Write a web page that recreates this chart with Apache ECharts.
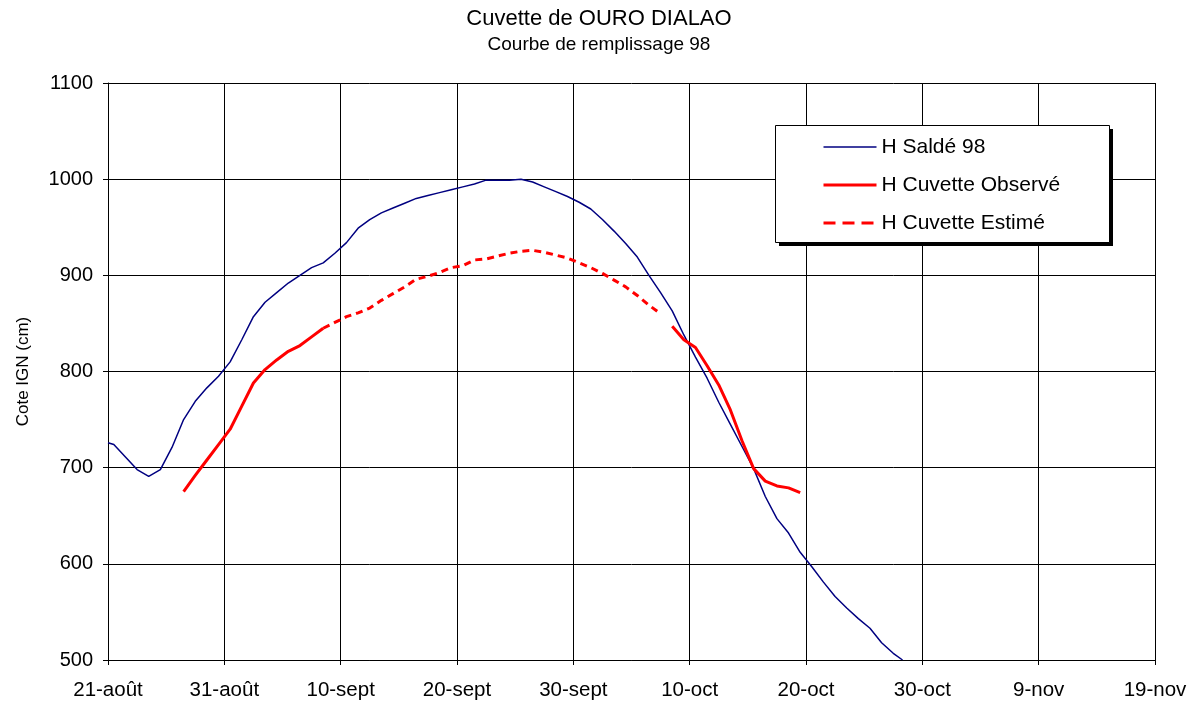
<!DOCTYPE html>
<html>
<head>
<meta charset="utf-8">
<script src="https://cdn.jsdelivr.net/npm/echarts@6/dist/echarts.min.js"></script>
<style>
  html, body { margin: 0; padding: 0; background: #fff; }
  #chart { width: 1198px; height: 706px; }
</style>
</head>
<body>
<div id="chart"></div>
<script>
  // x = days since 21-août 1998
  const xLabels = ['21-août', '31-août', '10-sept', '20-sept', '30-sept',
    '10-oct', '20-oct', '30-oct', '9-nov', '19-nov']

  const hSalde = [[0, 726], [0.5, 724], [1.5, 711], [2.5, 698], [3.5, 691], [4.5, 698],
    [5.5, 721], [6.5, 750], [7.5, 769], [8.5, 783], [9.5, 795], [10.5, 810],
    [11.5, 833], [12.5, 857], [13.5, 872], [14.5, 882], [15.5, 892], [16.5, 900],
    [17.5, 908], [18.5, 913], [19.5, 923], [20.5, 934], [21.5, 949], [22.5, 958],
    [23.5, 965], [24.5, 970], [25.5, 975], [26.5, 980], [27.5, 983], [28.5, 986],
    [29.5, 989], [30.5, 992], [31.5, 995], [32.5, 999], [33.5, 999], [34.5, 999],
    [35.5, 1000], [36.5, 997], [37.5, 992], [38.5, 987], [39.5, 982], [40.5, 976],
    [41.5, 969], [42.5, 958], [43.5, 946], [44.5, 933], [45.5, 919], [46.5, 900],
    [47.5, 882], [48.5, 863], [49.5, 838], [50.5, 815], [51.5, 793], [52.5, 768],
    [53.5, 745], [54.5, 722], [55.5, 699], [56.5, 670], [57.5, 647], [58.5, 632],
    [59.5, 612], [60.5, 597], [61.5, 581], [62.5, 566], [63.5, 554], [64.5, 543],
    [65.5, 533], [66.5, 518], [67.5, 507], [68.3, 500]]

  const hObserve = [[6.5, 675], [7.5, 692], [8.5, 708], [9.5, 724], [10.5, 740],
    [11.5, 764], [12.5, 788], [13.5, 802], [14.5, 812], [15.5, 821], [16.5, 827],
    [17.5, 836], [18.5, 845], null,
    [48.5, 847], [49.5, 833], [50.5, 825], [51.5, 806], [52.5, 786], [53.5, 760],
    [54.5, 728], [55.5, 699], [56.5, 686], [57.5, 681], [58.5, 679], [59.5, 674]]

  const hEstime = [[18.5, 845], [19.5, 851], [20.5, 857], [21.5, 861], [22.5, 866],
    [23.5, 874], [24.5, 881], [25.5, 888], [26.5, 896], [27.5, 899], [28.5, 903],
    [29.5, 908], [30.5, 910], [31.5, 916], [32.5, 917], [33.5, 920], [34.5, 923],
    [35.5, 925], [36.5, 926], [37.5, 924], [38.5, 921], [39.5, 918], [40.5, 913],
    [41.5, 908], [42.5, 902], [43.5, 895], [44.5, 888], [45.5, 879], [46.5, 869],
    [47.5, 860]]

  const font = 'Liberation Sans, Arial, sans-serif'
  const chart = echarts.init(document.getElementById('chart'))

  chart.setOption({
    animation: false,
    textStyle: {fontFamily: font},
    title: {
      text: 'Cuvette de OURO DIALAO',
      subtext: 'Courbe de remplissage 98',
      left: 'center',
      top: 3,
      itemGap: 5,
      textStyle: {fontSize: 22, fontWeight: 'normal', color: '#000', fontFamily: font},
      subtextStyle: {fontSize: 19, color: '#000', fontFamily: font}
    },
    // legend frame with its black drop shadow
    graphic: [
      {type: 'rect', z: 0, shape: {x: 779, y: 129, width: 334, height: 117}, style: {fill: '#000'}},
      {type: 'rect', z: 1, shape: {x: 775.5, y: 125.5, width: 334, height: 117},
        style: {fill: '#fff', stroke: '#000', lineWidth: 1}}
    ],
    legend: {
      orient: 'vertical',
      left: 775,
      top: 125,
      z: 10,
      padding: [10, 48, 7, 47],
      itemWidth: 53,
      itemHeight: 14,
      itemGap: 14,
      itemStyle: {opacity: 0, borderWidth: 0},
      textStyle: {fontSize: 21, color: '#000', lineHeight: 24, fontFamily: font},
      data: [
        {name: 'H Saldé 98', lineStyle: {width: 1.5}},
        {name: 'H Cuvette Observé', lineStyle: {width: 3}},
        {name: 'H Cuvette Estimé', lineStyle: {width: 3, type: [12, 7]}}
      ]
    },
    grid: {left: 108, top: 83, width: 1047, height: 577},
    xAxis: {
      type: 'value',
      min: 0,
      max: 90,
      interval: 10,
      axisLine: {show: true, lineStyle: {color: '#000', width: 1}},
      axisTick: {show: true, length: 5, lineStyle: {color: '#000'}},
      axisLabel: {
        fontSize: 20.5, color: '#000', margin: 20,
        formatter: function (v) { return xLabels[Math.round(v / 10)] }
      },
      splitLine: {show: true, lineStyle: {color: '#000', width: 1}}
    },
    yAxis: {
      type: 'value',
      min: 500,
      max: 1100,
      interval: 100,
      name: 'Cote IGN (cm)',
      nameLocation: 'middle',
      nameGap: 76,
      nameTextStyle: {fontSize: 17, color: '#000'},
      axisLine: {show: true, lineStyle: {color: '#000', width: 1}},
      axisTick: {show: true, length: 5, lineStyle: {color: '#000'}},
      axisLabel: {
        fontSize: 20, color: '#000', margin: 15,
        formatter: function (v) { return String(v) }
      },
      splitLine: {show: true, lineStyle: {color: '#000', width: 1}}
    },
    series: [
      {
        name: 'H Saldé 98',
        type: 'line',
        data: hSalde,
        symbol: 'none',
        color: '#000080',
        lineStyle: {color: '#000080', width: 1.5}
      },
      {
        name: 'H Cuvette Observé',
        type: 'line',
        data: hObserve,
        symbol: 'none',
        connectNulls: false,
        color: '#ff0000',
        lineStyle: {color: '#ff0000', width: 3}
      },
      {
        name: 'H Cuvette Estimé',
        type: 'line',
        data: hEstime,
        symbol: 'none',
        color: '#ff0000',
        lineStyle: {color: '#ff0000', width: 3, type: [7, 5]}
      }
    ]
  })
</script>
</body>
</html>
